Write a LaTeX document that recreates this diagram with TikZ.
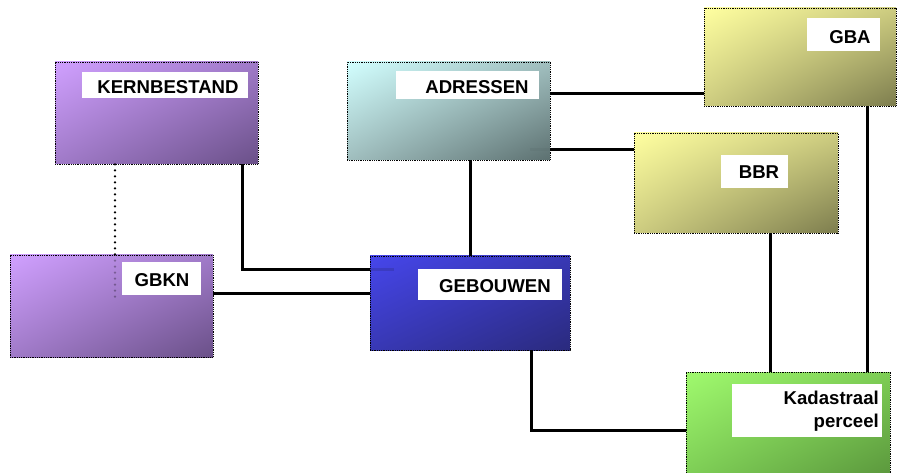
\documentclass[tikz,border=0pt]{standalone}
\usepackage{fontspec}
\setmainfont{Liberation Sans}
\usetikzlibrary{shadings}
\definecolor{purpleA}{RGB}{208,160,255}
\definecolor{purpleB}{RGB}{160,122,200}
\definecolor{purpleC}{RGB}{106,80,136}
\definecolor{cyanA}{RGB}{210,255,255}
\definecolor{cyanB}{RGB}{160,190,190}
\definecolor{cyanC}{RGB}{92,112,112}
\definecolor{yellowA}{RGB}{255,255,160}
\definecolor{yellowB}{RGB}{205,204,128}
\definecolor{yellowC}{RGB}{125,125,78}
\definecolor{blueA}{RGB}{70,70,235}
\definecolor{blueB}{RGB}{56,56,180}
\definecolor{blueC}{RGB}{42,42,125}
\definecolor{greenA}{RGB}{160,250,110}
\definecolor{greenB}{RGB}{125,205,85}
\definecolor{greenC}{RGB}{90,150,60}
\begin{document}
\begin{tikzpicture}[x=1pt,y=-1pt,
  entity/.style={draw=black, densely dotted, line width=0.8pt, inner sep=0pt},
  purplebox/.style={entity, upper left=purpleA, upper right=purpleB, lower left=purpleB, lower right=purpleC},
  cyanbox/.style={entity, upper left=cyanA, upper right=cyanB, lower left=cyanB, lower right=cyanC},
  yellowbox/.style={entity, upper left=yellowA, upper right=yellowB, lower left=yellowB, lower right=yellowC},
  bluebox/.style={entity, upper left=blueA, upper right=blueB, lower left=blueB, lower right=blueC},
  greenbox/.style={entity, upper left=greenA, upper right=greenB, lower left=greenB, lower right=greenC},
  tag/.style={fill=white, inner sep=0pt},
  tagtext/.style={inner sep=0pt, font=\fontsize{18.6}{23}\selectfont\bfseries, text=black},
  link/.style={draw=black, line width=3pt},
  dotlink/.style={draw=black, line width=2.6pt, line cap=round, dash pattern=on 0pt off 6pt},
  stub/.style={line width=3pt, opacity=0.3}
]
\useasboundingbox (0,0) rectangle (897,473);
\clip (0,0) rectangle (897,473);

% entity boxes
\node[purplebox, minimum width=203pt, minimum height=102pt] (kern) at (156.5,113) {};
\node[purplebox, minimum width=203pt, minimum height=102pt] (gbkn) at (111.5,306) {};
\node[cyanbox,   minimum width=203pt, minimum height=98pt]  (adr)  at (448.5,111) {};
\node[bluebox,   minimum width=200pt, minimum height=94pt]  (geb)  at (470,303) {};
\node[yellowbox, minimum width=192pt, minimum height=98pt]  (gba)  at (800,57) {};
\node[yellowbox, minimum width=204pt, minimum height=100pt] (bbr)  at (736,183) {};
\node[greenbox,  minimum width=204pt, minimum height=106pt] (kad)  at (788,425) {};

% white name plates
\node[tag, minimum width=166pt, minimum height=26pt] (kernT) at (165,85) {};
\node[tag, minimum width=143pt, minimum height=28pt] (adrT)  at (467.5,85) {};
\node[tag, minimum width=73pt,  minimum height=33pt] (gbaT)  at (843.5,34.5) {};
\node[tag, minimum width=67pt,  minimum height=33pt] (bbrT)  at (754.5,171.5) {};
\node[tag, minimum width=79pt,  minimum height=33pt] (gbknT) at (161.5,278.5) {};
\node[tag, minimum width=144pt, minimum height=31pt] (gebT)  at (490,284.5) {};
\node[tag, minimum width=150pt, minimum height=53pt] (kadT)  at (807,410.5) {};

\node[tagtext] (kernL) at (168,87) {KERNBESTAND};
\node[tagtext] (adrL)  at (477,87) {ADRESSEN};
\node[tagtext] (gbaL)  at (850,37) {GBA};
\node[tagtext] (bbrL)  at (759,172) {BBR};
\node[tagtext] (gbknL) at (162,280) {GBKN};
\node[tagtext] (gebL)  at (495,286) {GEBOUWEN};
\node[tagtext, align=right, anchor=east] (kadL) at (879,411) {Kadastraal\\perceel};

% connectors
\draw[dotlink] ([xshift=-41.5pt]kern.south) coordinate (kd) -- (kd |- gbkn.north);
\draw[link] ([xshift=85.5pt]kern.south) |- ([yshift=-14pt]geb.north west) coordinate (kg);
\draw[link] ([yshift=13pt]gbkn.east) coordinate (gg) -- (gg -| geb.west);
\draw[link] (geb.north |- adr.south) -- (geb.north);
\draw[link] ([yshift=17pt]adr.east) coordinate (ag) -- (ag -| gba.west);
\draw[link] ([yshift=-39pt]adr.east) coordinate (ab) -- (ab -| bbr.west);
\draw[link] ([xshift=34pt]bbr.south) coordinate (bk) -- (bk |- kad.north);
\draw[link] ([xshift=67pt]gba.south) coordinate (gk) -- (gk |- kad.north);
\draw[link] ([xshift=61pt]geb.south) |- ([yshift=-5pt]kad.west);

% faint continuations of connectors inside the boxes
\draw[stub, draw=blueC] (kg) -- ++(24,0);
\draw[dotlink, opacity=0.3] (kd |- gbkn.north) -- ++(0,44);
\draw[stub, draw=cyanC] (ab) -- ++(-20,0);
\end{tikzpicture}
\end{document}
